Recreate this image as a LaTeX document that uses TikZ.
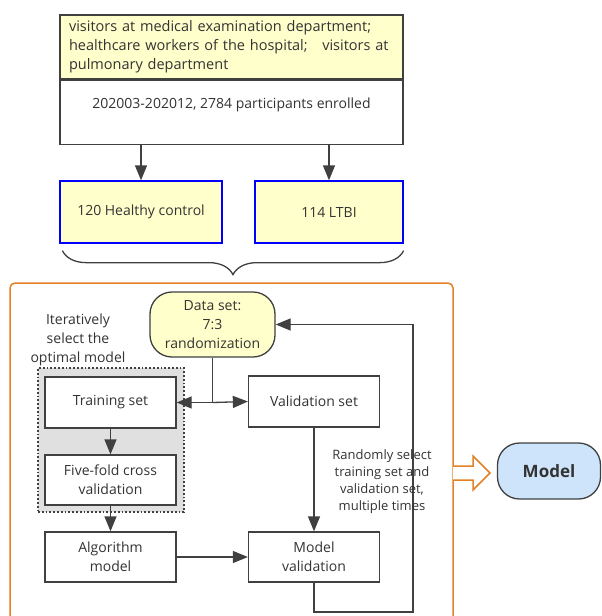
\documentclass[tikz,border=0pt]{standalone}
\usepackage{fontspec}
\setmainfont{Open Sans}
\usetikzlibrary{arrows.meta,positioning,decorations.pathreplacing,calc}
\definecolor{paleyellow}{RGB}{255,255,204}
\definecolor{paleblue}{RGB}{205,228,250}
\definecolor{frameorange}{RGB}{228,128,38}
\definecolor{linegray}{RGB}{64,64,64}

\begin{document}
\begin{tikzpicture}[
      x=1pt, y=-1pt,
      every node/.style={font=\fontsize{14}{19}\selectfont, text=black!80},
      box/.style={draw=linegray, line width=1.3pt, fill=white, minimum width=131pt,
                  minimum height=51pt, align=center, inner sep=2pt},
      group/.style={draw=blue, line width=1.3pt, fill=paleyellow,
                    minimum height=62pt, align=center},
      arr/.style={-{Triangle[length=15pt,width=12pt]}, line width=1.3pt, linegray},
    ]
    \useasboundingbox (0,0) rectangle (602,616);

    % --- enrolment ---
    \node[draw=linegray, line width=1.3pt, fill=paleyellow, text width=325pt,
          minimum height=64pt, align=left, inner xsep=9pt, inner ysep=5pt,
          font=\fontsize{14.5}{19}\selectfont] (src) at (231.5,47)
      {visitors at medical examination department;\\
       healthcare workers of the hospital;\ \ \ visitors at\\
       pulmonary department};
    \node[box, minimum width=343pt, minimum height=64pt, text depth=18pt,
          anchor=north] (enrol) at (src.south)
      {202003-202012, 2784 participants enrolled};

    % --- groups ---
    \node[group, minimum width=162pt] (hc) at (141,212) {120 Healthy control};
    \node[group, minimum width=148pt] (ltbi) at (329,212) {114 LTBI};
    \draw[arr] (enrol.south -| hc) -- (hc.north);
    \draw[arr] (enrol.south -| ltbi) -- (ltbi.north);
    \draw[decorate, decoration={brace, mirror, amplitude=24pt},
          line width=1.3pt, linegray]
      ($(hc.south west)+(3,7)$) -- ($(ltbi.south east)+(0,7)$);

    % --- modelling frame ---
    \draw[frameorange, line width=1.5pt, rounded corners=5pt]
      (10,630) -- (10,283) -- (453,283) -- (453,630);
    \node[draw=linegray, dotted, line width=1.8pt, fill=black!12,
          minimum width=146pt, minimum height=144pt] (iter) at (111,440) {};
    \node[align=center] (iterlbl) at (78,340)
      {Iteratively\\select the\\optimal model};

    % --- boxes ---
    \node[box, fill=paleyellow, rounded corners=22pt, minimum width=125pt,
          minimum height=65pt] (data) at (212.5,324.5)
      {Data set:\\7:3\\randomization};
    \node[box] (train) at (110.5,402.5) {Training set};
    \node[box] (valid) at (314,401.5) {Validation set};
    \node[box, minimum height=50pt] (five) at (110.5,480)
      {Five-fold cross\\validation};
    \node[box, minimum height=50pt] (algo) at (110.5,557) {Algorithm\\model};
    \node[box, minimum height=50pt] (mval) at (314,557) {Model\\validation};

    % --- arrows ---
    \coordinate (split) at (data.south |- train.east);
    \draw[line width=1.3pt, linegray] (data.south) -- (split);
    \draw[arr] (split) -- (train.east);
    \draw[arr] (split) -- (valid.west);
    \draw[arr] (train) -- (five);
    \draw[arr] (five) -- (algo);
    \draw[arr] (algo) -- (mval);
    \draw[arr] (valid) -- (mval);
    \coordinate (loopbr) at (413,612);
    \draw[arr] (mval.south) |- (loopbr) |- (data.east);
    \node[align=center, font=\fontsize{13}{17}\selectfont] (note) at (382,482)
      {Randomly select\\training set and\\validation set,\\multiple times};

    % --- result ---
    \node[draw=linegray, line width=1.3pt, fill=paleblue, rounded corners=22pt,
          minimum width=103pt, minimum height=56pt,
          font=\fontsize{17}{19}\selectfont\bfseries] (model) at (549,471) {Model};
    \draw[frameorange, line width=1.5pt, fill=white]
      (453,466) -- (473,466) -- (473,456) -- (490,473) -- (473,490)
      -- (473,480) -- (453,480);
  \end{tikzpicture}
\end{document}
